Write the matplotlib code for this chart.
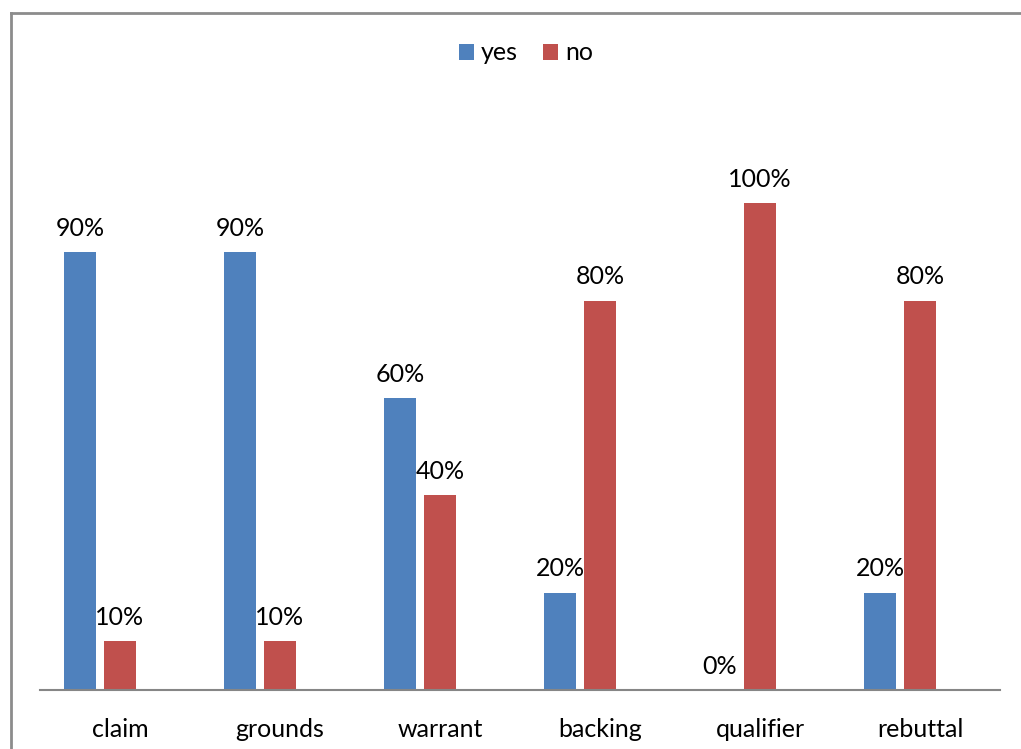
import numpy as np
import matplotlib
matplotlib.use("Agg")
import matplotlib.pyplot as plt
from matplotlib.lines import Line2D

# Toulmin elements: share of answers with / without each element
categories = ["claim", "grounds", "warrant", "backing", "qualifier", "rebuttal"]
yes_pct = [90, 90, 60, 20, 0, 20]
no_pct = [10, 10, 40, 80, 100, 80]

BLUE = "#4F81BD"
RED = "#C0504D"
W, H = 1021, 749

plt.rcParams["font.family"] = ["Lato", "DejaVu Sans"]

fig = plt.figure(figsize=(W / 100, H / 100), dpi=100)
ax = fig.add_axes([40 / W, 1 - 690 / H, 960 / W, 584 / H])

x = np.arange(len(categories))
bw = 0.2
b_yes = ax.bar(x - 0.25, yes_pct, bw, color=BLUE, label="yes")
b_no = ax.bar(x, no_pct, bw, color=RED, label="no")

for bars, vals in ((b_yes, yes_pct), (b_no, no_pct)):
    for b, v in zip(bars, vals):
        ax.annotate(f"{v}%", (b.get_x() + b.get_width() / 2, v),
                    xytext=(0, 9), textcoords="offset points",
                    ha="center", va="bottom", fontsize=18)

ax.set_xlim(-0.5, len(categories) - 0.5)
ax.set_ylim(0, 120)
ax.set_xticks(x)
ax.set_xticklabels(categories, fontsize=18)
ax.tick_params(axis="x", length=0, pad=20)
ax.set_yticks([])
for side in ("top", "right", "left"):
    ax.spines[side].set_visible(False)
ax.spines["bottom"].set_color("#868686")
ax.spines["bottom"].set_linewidth(1.5)

fig.legend(loc="upper center", bbox_to_anchor=(526 / W, 1 - 19 / H), ncol=2,
           frameon=False, fontsize=18, handlelength=0.6, handleheight=0.6,
           handletextpad=0.3, columnspacing=1.0)

# outer chart border (left and top edges)
bx, by = 10.5 / W, 1 - 12.5 / H
fig.add_artist(Line2D([bx, bx], [0, by], transform=fig.transFigure,
                      color="#8C8C8C", lw=2))
fig.add_artist(Line2D([bx, 1], [by, by], transform=fig.transFigure,
                      color="#8C8C8C", lw=2))

fig.savefig("out.png", dpi=100)
